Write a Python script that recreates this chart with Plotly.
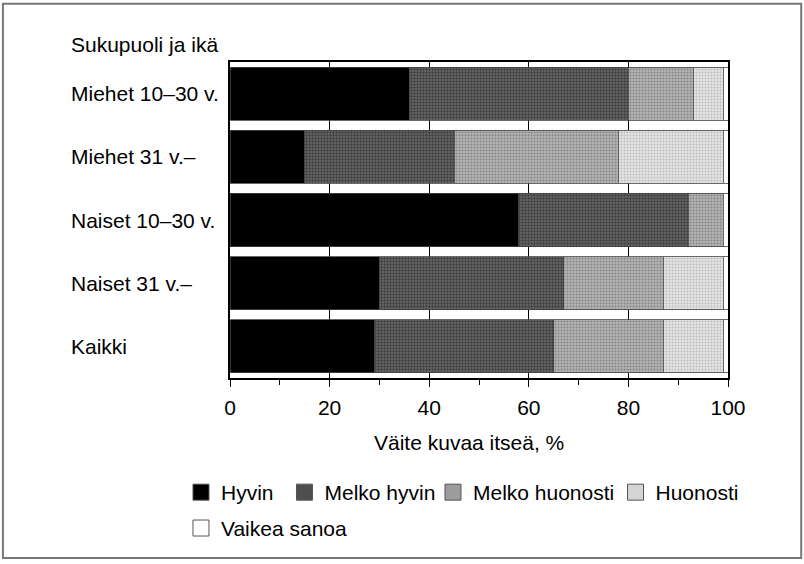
import plotly.graph_objects as go

# Datos (porcentajes)
ryhmat = ['Miehet 10–30 v.', 'Miehet 31 v.–', 'Naiset 10–30 v.', 'Naiset 31 v.–', 'Kaikki']
hyvin = [36, 15, 58, 30, 29]
melko_hyvin = [44, 30, 34, 37, 36]
melko_huonosti = [13, 33, 7, 20, 22]
huonosti = [6, 21, 0, 12, 12]
vaikea_sanoa = [1, 1, 1, 1, 1]
x_ticks = [0, 20, 40, 60, 80, 100]

FONT = 'Liberation Sans, Arial, Helvetica, sans-serif'

# nombre, valores, relleno de barra, color de leyenda, leyenda
sarjat = [
    ('Hyvin', hyvin, dict(color='black'), 'black', 'legend'),
    ('Melko hyvin', melko_hyvin,
     dict(color='#5a5a5a', pattern=dict(shape='.', fgcolor='#111111', bgcolor='#6a6a6a', size=3, solidity=0.5)),
     '#4e4e4e', 'legend2'),
    ('Melko huonosti', melko_huonosti,
     dict(color='#a8a8a8', pattern=dict(shape='.', fgcolor='#555555', bgcolor='#b4b4b4', size=3, solidity=0.4)),
     '#9c9c9c', 'legend3'),
    ('Huonosti', huonosti,
     dict(color='#d8d8d8', pattern=dict(shape='.', fgcolor='#999999', bgcolor='#e2e2e2', size=3, solidity=0.35)),
     '#d4d4d4', 'legend4'),
    ('Vaikea sanoa', vaikea_sanoa, dict(color='white'), 'white', 'legend5'),
]

fig = go.Figure()
for nimi, arvot, marker, leg_color, leg in sarjat:
    marker = dict(marker, line=dict(width=0.8, color='#444444'))
    fig.add_trace(go.Bar(y=ryhmat, x=arvot, name=nimi, orientation='h', marker=marker,
                         showlegend=False))
    # selitteen ruutu (isompi kuin palkin oletussymboli)
    fig.add_trace(go.Scatter(x=[None], y=[None], mode='markers', name=nimi, legend=leg,
                             marker=dict(symbol='square', size=19, color=leg_color,
                                         line=dict(width=1, color='#555555'))))

# Ryhmien nimet vasemmalle tasattuina
for r in ryhmat:
    fig.add_annotation(x=-0.3233, y=r, xref='paper', yref='y', text=r, showarrow=False,
                       xanchor='left', font=dict(size=21, color='black'))
fig.add_annotation(x=-0.3233, y=1.054, xref='paper', yref='paper', text='Sukupuoli ja ikä',
                   showarrow=False, xanchor='left', yanchor='middle', font=dict(size=21, color='black'))
fig.add_annotation(x=0.48, y=-0.205, xref='paper', yref='paper', text='Väite kuvaa itseä, %',
                   showarrow=False, xanchor='center', yanchor='middle', font=dict(size=21, color='black'))

# Kehys koko kuvan ympärille
fig.add_shape(type='rect', xref='paper', yref='paper', x0=-0.456, x1=1.147, y0=-0.570, y1=1.184,
              line=dict(color='#777777', width=2))

fig.update_xaxes(range=[0, 100], tickvals=x_ticks, ticks='outside', ticklen=7, tickcolor='black',
                 showgrid=True, gridcolor='black', gridwidth=1, showline=True, linecolor='black',
                 linewidth=2, mirror=True, zeroline=False, ticklabelstandoff=3,
                 minor=dict(dtick=10, ticks='outside', ticklen=5, tickcolor='black', showgrid=False),
                 tickfont=dict(size=21))
fig.update_yaxes(autorange='reversed', showticklabels=False, ticks='', showline=True,
                 linecolor='black', linewidth=2, mirror=True, showgrid=False)

leg_common = dict(orientation='h', xanchor='left', yanchor='top', font=dict(size=21),
                  bgcolor='rgba(0,0,0,0)', itemclick=False, itemdoubleclick=False)
fig.update_layout(
    barmode='stack', bargap=0.16,
    width=804, height=564,
    margin=dict(l=230, r=76, t=62, b=186),
    plot_bgcolor='white', paper_bgcolor='white',
    font=dict(family=FONT, size=21, color='black'),
    legend=dict(leg_common, x=-0.0984, y=-0.2975),
    legend2=dict(leg_common, x=0.1094, y=-0.2975),
    legend3=dict(leg_common, x=0.4076, y=-0.2975),
    legend4=dict(leg_common, x=0.7741, y=-0.2975),
    legend5=dict(leg_common, x=-0.0984, y=-0.411),
)

fig.write_html("out.html", config={'displayModeBar': False},
               post_script="document.body.style.margin='0';")
